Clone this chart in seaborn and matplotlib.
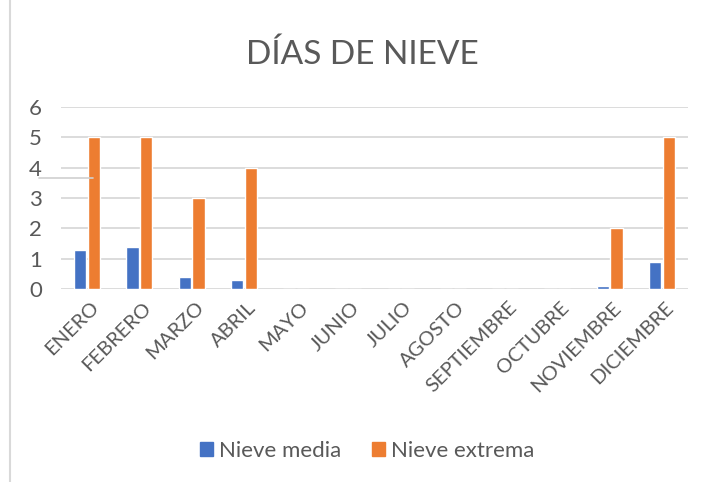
import matplotlib
matplotlib.use("Agg")
import matplotlib.pyplot as plt
import matplotlib.transforms as mtransforms
import seaborn as sns
import pandas as pd
from matplotlib.lines import Line2D

meses = ["ENERO", "FEBRERO", "MARZO", "ABRIL", "MAYO", "JUNIO", "JULIO",
         "AGOSTO", "SEPTIEMBRE", "OCTUBRE", "NOVIEMBRE", "DICIEMBRE"]
nieve_media = [1.3, 1.4, 0.4, 0.3, 0, 0, 0, 0, 0, 0, 0.1, 0.9]
nieve_extrema = [5, 5, 3, 4, 0, 0, 0, 0, 0, 0, 2, 5]
series = ["Nieve media", "Nieve extrema"]
colores = ["#4472C4", "#ED7D31"]
yticks = [0, 1, 2, 3, 4, 5, 6]

df = pd.DataFrame({
    "mes": meses * 2,
    "valor": nieve_media + nieve_extrema,
    "serie": [series[0]] * len(meses) + [series[1]] * len(meses),
})

sns.set_theme(style="white")
plt.rcParams["font.family"] = ["Lato", "DejaVu Sans"]
txt = "#595959"

fig = plt.figure(figsize=(7.12, 4.82), dpi=100)
ax = fig.add_axes([61/712, (482-289)/482, (688-61)/712, (289-107)/482])

sns.barplot(data=df, x="mes", y="valor", hue="serie", palette=colores,
            width=0.52, gap=0.1, ax=ax, order=meses, hue_order=series,
            saturation=1, legend=True)

ax.set_ylim(0, 6)
ax.set_yticks(yticks)
ax.set_yticklabels([str(v) for v in yticks], fontsize=16, color=txt)
ax.yaxis.grid(True, color="#D9D9D9", linewidth=1.3)
ax.set_axisbelow(True)
for s in ax.spines.values():
    s.set_visible(False)
ax.tick_params(axis="both", length=0)
ax.tick_params(axis="y", pad=23)
for lab in ax.get_yticklabels():
    lab.set_horizontalalignment("left")
ax.set_xlabel("")
ax.set_ylabel("")
ax.set_xticks(range(len(meses)))
ax.set_xticklabels(meses, rotation=45, ha="right", rotation_mode="anchor",
                   fontsize=14.5, color=txt)
ax.tick_params(axis="x", pad=7)
offset = mtransforms.ScaledTranslation(3/100, 0, fig.dpi_scale_trans)
for lab in ax.get_xticklabels():
    lab.set_transform(lab.get_transform() + offset)
ax.set_xlim(-0.5, len(meses) - 0.5)

ax.legend_.remove()
handles = [plt.Rectangle((0, 0), 1, 1, color=c) for c in colores]
fig.legend(handles, series, loc="center", bbox_to_anchor=(367/712, 1 - 451/482),
           ncol=2, frameon=False, fontsize=16, labelcolor=txt,
           handlelength=0.6, handleheight=0.6, handletextpad=0.25,
           columnspacing=1.4)

fig.text(362/712, 1 - 55/482, "DÍAS DE NIEVE", ha="center", va="center",
         fontsize=24, color=txt)

fig.add_artist(Line2D([9.5/712, 9.5/712], [0, 1], color="#D9D9D9", linewidth=1.5))
fig.add_artist(Line2D([39/712, 93/712], [1 - 178/482, 1 - 178/482],
                      color="#D0D0D0", linewidth=1.2))

fig.savefig("out.png", dpi=100)
